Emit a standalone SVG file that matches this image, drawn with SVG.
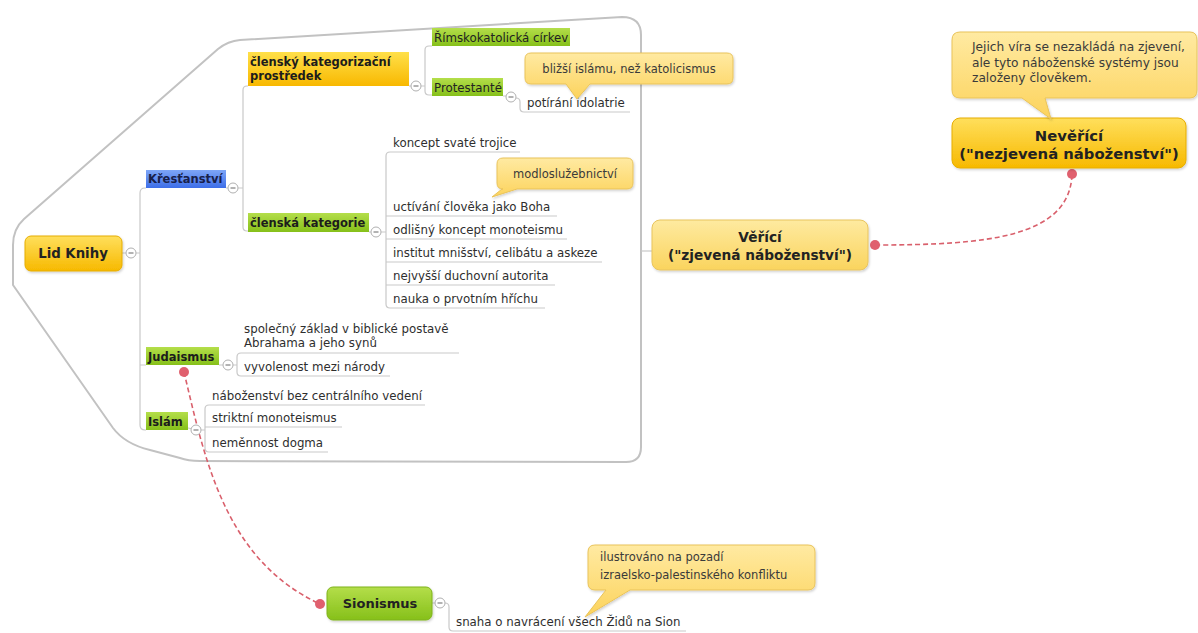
<svg xmlns="http://www.w3.org/2000/svg" width="1198" height="633" viewBox="0 0 1198 633">
  <defs>
    <linearGradient id="gYellow" x1="0" y1="0" x2="0" y2="1">
      <stop offset="0" stop-color="#ffdf5c"/>
      <stop offset="1" stop-color="#f7b900"/>
    </linearGradient>
    <linearGradient id="gPale" x1="0" y1="0" x2="0" y2="1">
      <stop offset="0" stop-color="#feeaa0"/>
      <stop offset="1" stop-color="#fad45e"/>
    </linearGradient>
    <linearGradient id="gGreen" x1="0" y1="0" x2="0" y2="1">
      <stop offset="0" stop-color="#b4de4a"/>
      <stop offset="1" stop-color="#86c01a"/>
    </linearGradient>
    <linearGradient id="gBlue" x1="0" y1="0" x2="0" y2="1">
      <stop offset="0" stop-color="#7ea6f7"/>
      <stop offset="1" stop-color="#3d6ee8"/>
    </linearGradient>
    <linearGradient id="gOrange" x1="0" y1="0" x2="0" y2="1">
      <stop offset="0" stop-color="#ffe04a"/>
      <stop offset="1" stop-color="#f8b800"/>
    </linearGradient>
    <linearGradient id="gNote" x1="0" y1="0" x2="0" y2="1">
      <stop offset="0" stop-color="#ffeaa2"/>
      <stop offset="1" stop-color="#fcd35c"/>
    </linearGradient>
    <filter id="shadow" x="-10%" y="-10%" width="130%" height="140%">
      <feDropShadow dx="1" dy="1.5" stdDeviation="1.2" flood-color="#000" flood-opacity="0.18"/>
    </filter>
  </defs>
  <style>
    text { font-family: "DejaVu Sans", Verdana, sans-serif; fill: #333; }
    .item { font-size: 11.8px; fill: #2e2e2e; }
    .note { font-size: 11.5px; fill: #3a3a3a; }
    .lab { font-size: 11.5px; font-weight: bold; fill: #1c1c1c; }
    .main { font-size: 13px; font-weight: bold; fill: #222; text-anchor: middle; }
    .line { fill: none; stroke: #c9c9c9; stroke-width: 1.2; }
    .bound { fill: none; stroke: #c2c2c2; stroke-width: 2; }
    .col { fill: #fff; stroke: #b0b0b0; stroke-width: 1; }
    .minus { stroke: #666; stroke-width: 1; }
    .rel { fill: none; stroke: #d9606c; stroke-width: 1.6; stroke-dasharray: 5 3; }
    .dot { fill: #e0606e; }
    .callout { fill: url(#gNote); stroke: #e9c35a; stroke-width: 1; filter: url(#shadow); }
  </style>

  <rect width="1198" height="633" fill="#ffffff"/>

  <!-- boundary around Lid Knihy -->
  <path class="bound" d="M626,462 Q641,462 641,447 L641,35 Q641,17 622,17 L240,40 Q228,41 218,49 L24,219 Q13,229 13,245 L13,285 L113,428 Q125,444 150,450 L180,458 Q188,461 200,461 Z"/>

  <!-- connectors -->
  <g id="connectors">
    <!-- root -->
    <path class="line" d="M122,253 H126 M136,253 H140 M146,188 H145 Q140,188 140,193 V425 Q140,430 145,430 H146 M140,365 H146"/>
    <!-- Křesťanství -->
    <path class="line" d="M226,188 H228 M238,188 H243 M248,86 H247 Q243,86 243,90 V227 Q243,231 247,231 H248"/>
    <!-- členský kategorizační prostředek -->
    <path class="line" d="M409,86 H411 M421,86 H425 M432,46 H429 Q425,46 425,50 V91 Q425,95 429,95 H432"/>
    <!-- Protestanté -->
    <path class="line" d="M503,96 H506 M516,98 Q520,98 520,102 V108 Q520,112 524,112 H630"/>
    <!-- členská kategorie -->
    <path class="line" d="M369,232 H371 M381,232 H386 M520,152 H390 Q386,152 386,156 V304 Q386,308 390,308 H545 M386,216 H557 M386,239 H567 M386,262 H602 M386,285 H555"/>
    <!-- Judaismus -->
    <path class="line" d="M219,365 H223 M233,365 H237 M459,353 H241 Q237,353 237,357 V372 Q237,376 241,376 H390"/>
    <!-- Islám -->
    <path class="line" d="M188,428 Q191,428 191,429 M201,430 H205 M425,405 H209 Q205,405 205,409 V448 Q205,452 209,452 H328 M205,427 H342"/>
    <!-- Sionismus -->
    <path class="line" d="M432,603 H435 M445,603 Q449,603 449,607 V627 Q449,631 453,631 H686"/>
    <!-- boundary to Věřící -->
    <path class="line" d="M641,251 H652"/>
    <!-- relationships -->
    <path class="rel" d="M184,372 C205,460 225,560 320,604"/>
    <path class="rel" d="M875,245 C985,245 1070,238 1072,174"/>
    <circle class="dot" cx="184" cy="372" r="5"/>
    <circle class="dot" cx="320" cy="604" r="5"/>
    <circle class="dot" cx="875" cy="245" r="5"/>
    <circle class="dot" cx="1072" cy="174" r="5"/>
    <!-- collapse markers -->
    <g>
      <circle class="col" cx="131" cy="253" r="5"/><path class="minus" d="M128.5,253 H133.5"/>
      <circle class="col" cx="233" cy="188" r="5"/><path class="minus" d="M230.5,188 H235.5"/>
      <circle class="col" cx="416" cy="86" r="5"/><path class="minus" d="M413.5,86 H418.5"/>
      <circle class="col" cx="511" cy="97" r="5"/><path class="minus" d="M508.5,97 H513.5"/>
      <circle class="col" cx="376" cy="232" r="5"/><path class="minus" d="M373.5,232 H378.5"/>
      <circle class="col" cx="228" cy="365" r="5"/><path class="minus" d="M225.5,365 H230.5"/>
      <circle class="col" cx="196" cy="430" r="5"/><path class="minus" d="M193.5,430 H198.5"/>
      <circle class="col" cx="440" cy="603" r="5"/><path class="minus" d="M437.5,603 H442.5"/>
    </g>
  </g>

  <!-- central topic -->
  <g id="lid-knihy">
    <rect x="25" y="236" width="97" height="35" rx="6" fill="url(#gYellow)" stroke="#e6ad00" filter="url(#shadow)"/>
    <text class="main" x="73" y="258" style="font-size:13.3px">Lid Knihy</text>
  </g>

  <g id="krestanstvi">
    <rect x="146" y="170" width="80" height="18" fill="url(#gBlue)"/>
    <text class="lab" x="148" y="183" style="fill:#18204a">Křesťanství</text>
  </g>

  <g id="clensky-prostredek">
    <rect x="248" y="52" width="161" height="34" fill="url(#gOrange)"/>
    <text class="lab" x="250" y="66">členský kategorizační</text>
    <text class="lab" x="250" y="80">prostředek</text>
  </g>

  <g id="rimskokatolicka">
    <rect x="432" y="28" width="138" height="18" fill="url(#gGreen)"/>
    <text class="item" x="434" y="42" style="fill:#222">Římskokatolická církev</text>
  </g>

  <g id="protestante">
    <rect x="432" y="78" width="71" height="18" fill="url(#gGreen)"/>
    <text class="item" x="434" y="92" style="fill:#222">Protestanté</text>
  </g>

  <g id="potirani">
    <text class="item" x="527" y="107">potírání idolatrie</text>
  </g>

  <g id="note-islamu">
    <path class="callout" d="M531,53 H727 Q733,53 733,59 V78 Q733,84 727,84 H590 L577,99 L566,84 H531 Q525,84 525,78 V59 Q525,53 531,53 Z"/>
    <text class="note" x="629" y="73" text-anchor="middle">bližší islámu, než katolicismus</text>
  </g>

  <g id="clenska-kategorie">
    <rect x="248" y="213" width="121" height="19" fill="url(#gGreen)"/>
    <text class="lab" x="250" y="227">členská kategorie</text>
  </g>

  <g id="kategorie-items">
    <text class="item" x="393" y="147">koncept svaté trojice</text>
    <text class="item" x="393" y="211">uctívání člověka jako Boha</text>
    <text class="item" x="393" y="234">odlišný koncept monoteismu</text>
    <text class="item" x="393" y="257">institut mnišství, celibátu a askeze</text>
    <text class="item" x="393" y="280">nejvyšší duchovní autorita</text>
    <text class="item" x="393" y="303">nauka o prvotním hříchu</text>
  </g>

  <g id="note-modlo">
    <path class="callout" d="M503,158 H627 Q633,158 633,164 V183 Q633,189 627,189 H517 L492,197 L502,189 H503 Q497,189 497,183 V164 Q497,158 503,158 Z"/>
    <text class="note" x="565" y="178" text-anchor="middle">modloslužebnictví</text>
  </g>

  <g id="judaismus">
    <rect x="146" y="347" width="73" height="18" fill="url(#gGreen)"/>
    <text class="lab" x="148" y="361">Judaismus</text>
    <text class="item" x="244" y="333">společný základ v biblické postavě</text>
    <text class="item" x="244" y="347">Abrahama a jeho synů</text>
    <text class="item" x="244" y="371">vyvolenost mezi národy</text>
  </g>

  <g id="islam">
    <rect x="146" y="412" width="42" height="18" fill="url(#gGreen)"/>
    <text class="lab" x="148" y="426">Islám</text>
    <text class="item" x="212" y="400">náboženství bez centrálního vedení</text>
    <text class="item" x="212" y="422">striktní monoteismus</text>
    <text class="item" x="212" y="447">neměnnost dogma</text>
  </g>

  <g id="vericí">
    <rect x="652" y="220" width="216" height="50" rx="8" fill="url(#gPale)" stroke="#e8c45e" filter="url(#shadow)"/>
    <text class="main" x="760" y="242" style="font-size:13.7px">Věřící</text>
    <text class="main" x="760" y="260" style="font-size:13.7px">("zjevená náboženství")</text>
  </g>

  <g id="nevericí">
    <rect x="952" y="118" width="234" height="50" rx="8" fill="url(#gYellow)" stroke="#e6ad00" filter="url(#shadow)"/>
    <text class="main" x="1069" y="141" style="font-size:14.8px">Nevěřící</text>
    <text class="main" x="1069" y="159" style="font-size:14.8px">("nezjevená náboženství")</text>
  </g>

  <g id="note-nezjevena">
    <path class="callout" d="M960,32 H1190 Q1197,32 1197,40 V90 Q1197,98 1190,98 H1045 L1051,119 L1022,98 H960 Q952,98 952,90 V40 Q952,32 960,32 Z"/>
    <text class="note" x="972" y="51" style="font-size:12.2px">Jejich víra se nezakládá na zjevení,</text>
    <text class="note" x="972" y="67" style="font-size:12.2px">ale tyto náboženské systémy jsou</text>
    <text class="note" x="972" y="82" style="font-size:12.2px">založeny člověkem.</text>
  </g>

  <g id="sionismus">
    <rect x="327" y="587" width="105" height="33" rx="6" fill="url(#gGreen)" stroke="#7fb31a" filter="url(#shadow)"/>
    <text class="main" x="380" y="608">Sionismus</text>
    <text class="item" x="456" y="626">snaha o navrácení všech Židů na Sion</text>
  </g>

  <g id="note-sion">
    <path class="callout" d="M595,545 H808 Q815,545 815,552 V583 Q815,590 808,590 H630 L585,617 L606,590 H595 Q588,590 588,583 V552 Q588,545 595,545 Z"/>
    <text class="note" x="600" y="561">ilustrováno na pozadí</text>
    <text class="note" x="600" y="579">izraelsko-palestinského konfliktu</text>
  </g>
</svg>
